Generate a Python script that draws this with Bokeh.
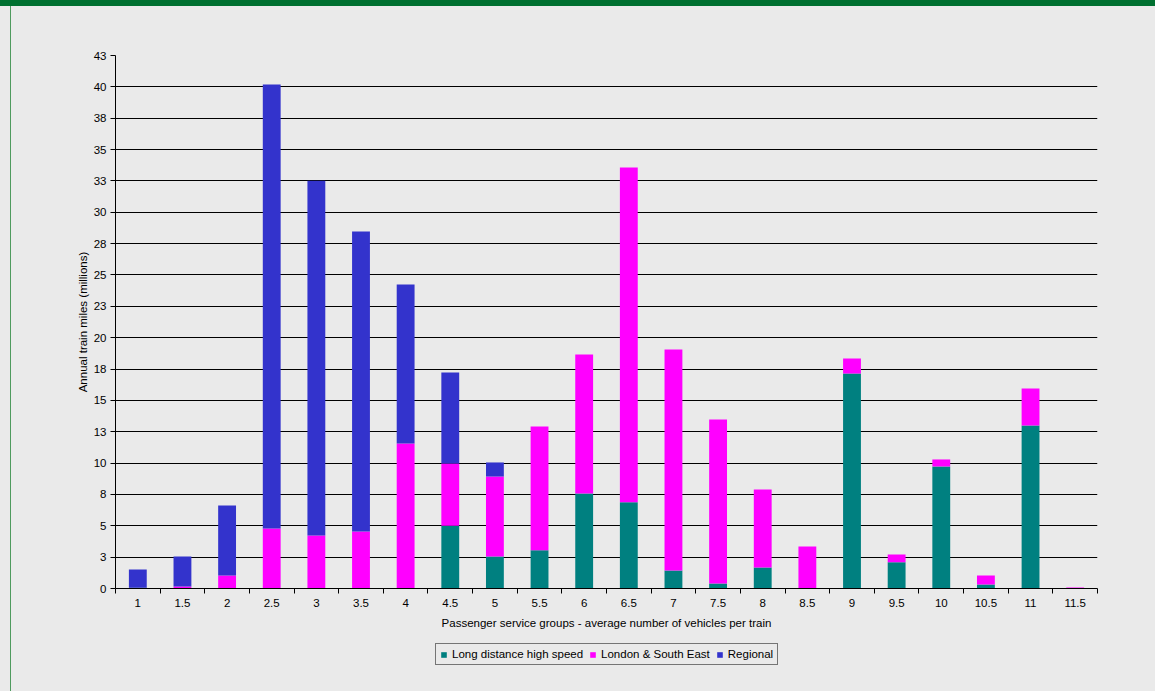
from bokeh.plotting import figure
from bokeh.models import (ColumnDataSource, Range1d, FixedTicker, Legend, Div)
from bokeh.layouts import column, row
from bokeh.embed import file_html
from bokeh.resources import INLINE

# Passenger service groups (average number of vehicles per train)
groups = [1, 1.5, 2, 2.5, 3, 3.5, 4, 4.5, 5, 5.5, 6, 6.5, 7, 7.5, 8, 8.5,
          9, 9.5, 10, 10.5, 11, 11.5]
group_labels = ["1", "1.5", "2", "2.5", "3", "3.5", "4", "4.5", "5", "5.5", "6",
                "6.5", "7", "7.5", "8", "8.5", "9", "9.5", "10", "10.5", "11", "11.5"]

# Annual train miles (millions) by sector
long_distance = [0.05, 0, 0, 0, 0, 0, 0, 5.0, 2.55, 3.05, 7.58, 6.88, 1.44, 0.4,
                 1.67, 0, 17.14, 2.1, 9.73, 0.32, 13.0, 0]
london_se = [0, 0.16, 1.04, 4.78, 4.23, 4.55, 11.56, 4.97, 6.38, 9.87, 11.08,
             26.69, 17.62, 13.08, 6.22, 3.35, 1.2, 0.61, 0.56, 0.72, 2.95, 0.08]
regional = [1.47, 2.39, 5.58, 35.41, 28.28, 23.92, 12.68, 7.25, 1.12, 0, 0, 0,
            0, 0, 0, 0, 0, 0, 0, 0, 0, 0]

series_names = ["Long distance high speed", "London & South East", "Regional"]
series_colors = ["#008080", "#FF00FF", "#3333CC"]

y_ticks = [0, 2.5, 5, 7.5, 10, 12.5, 15, 17.5, 20, 22.5, 25, 27.5, 30, 32.5,
           35, 37.5, 40, 42.5]
y_tick_labels = ["0", "3", "5", "8", "10", "13", "15", "18", "20", "23", "25",
                 "28", "30", "33", "35", "38", "40", "43"]

FONT = "Liberation Sans"
FONT_SIZE = "11.5px"
BG = "#EAEAEA"

source = ColumnDataSource(dict(group=groups, ld=long_distance,
                               lse=london_se, reg=regional))
x_range = Range1d(groups[0] - 0.25, groups[-1] + 0.25)

# main chart
p = figure(width=1144, height=636, output_backend="svg", toolbar_location=None,
           x_range=x_range, y_range=Range1d(y_ticks[0], y_ticks[-1]),
           min_border_left=104, min_border_right=58,
           min_border_top=49, min_border_bottom=54)
p.background_fill_color = BG
p.border_fill_color = BG
p.outline_line_color = None

p.vbar_stack(["ld", "lse", "reg"], x="group", width=0.2,
             color=series_colors, line_color=None, source=source)

# y axis
p.yaxis.ticker = FixedTicker(ticks=y_ticks)
p.yaxis.major_label_overrides = {t: s for t, s in zip(y_ticks, y_tick_labels)}
p.yaxis.axis_label = "Annual train miles (millions)"
p.yaxis.major_tick_out = 5
p.yaxis.major_tick_in = 0
p.yaxis.minor_tick_line_color = None
p.yaxis.major_label_standoff = 4
p.yaxis.axis_label_standoff = 2

# x axis: labels at group centres, ticks between groups
boundaries = [g - 0.25 for g in groups] + [groups[-1] + 0.25]
p.xaxis.ticker = FixedTicker(ticks=groups, minor_ticks=boundaries)
p.xaxis.major_label_overrides = {g: s for g, s in zip(groups, group_labels)}
p.xaxis.axis_label = "Passenger service groups - average number of vehicles per train"
p.xaxis.major_tick_out = 5
p.xaxis.major_tick_in = 0
p.xaxis.minor_tick_out = 5
p.xaxis.minor_tick_in = 0
p.xaxis.minor_tick_line_color = "black"
p.xaxis.major_label_standoff = 5
p.xaxis.axis_label_standoff = 7

for ax in (p.xaxis, p.yaxis):
    ax.axis_line_color = "black"
    ax.major_label_text_font = FONT
    ax.major_label_text_font_size = FONT_SIZE
    ax.major_label_text_color = "black"
    ax.axis_label_text_font = FONT
    ax.axis_label_text_font_size = FONT_SIZE
    ax.axis_label_text_font_style = "normal"
    ax.axis_label_text_color = "black"
p.yaxis.major_tick_line_color = "black"
p.xaxis.major_tick_line_color = None

p.xgrid.visible = False
p.ygrid.ticker = FixedTicker(ticks=y_ticks)
p.ygrid.grid_line_color = "black"
p.ygrid.grid_line_width = 1
p.ygrid.level = "underlay"

# legend strip under the chart; its stack mirrors the chart's series
leg = figure(width=1144, height=49, output_backend="svg", toolbar_location=None,
             x_axis_type=None, y_axis_type=None,
             x_range=x_range, y_range=Range1d(0, 1),
             min_border_left=104, min_border_right=58,
             min_border_top=0, min_border_bottom=0)
leg.background_fill_color = None
leg.border_fill_color = BG
leg.outline_line_color = None
leg.grid.visible = False

swatches = leg.vbar_stack(["ld", "lse", "reg"], x="group", width=0.2,
                          color=series_colors, line_color=None, source=source,
                          visible=False)
legend = Legend(items=[(n, [r]) for n, r in zip(series_names, swatches)],
                orientation="horizontal", location=(320, 26))
legend.label_text_font = FONT
legend.label_text_font_size = FONT_SIZE
legend.label_text_color = "black"
legend.label_height = 11
legend.glyph_height = 7
legend.glyph_width = 7
legend.label_standoff = 5
legend.spacing = 6
legend.padding = 4
legend.margin = 0
legend.border_line_color = "black"
legend.border_line_width = 1
legend.background_fill_color = BG
legend.background_fill_alpha = 1
legend.inactive_fill_alpha = 0
leg.add_layout(legend)

top_bar = Div(text="", width=1155, height=6, margin=0,
              styles={"background-color": "#007030"})
left_pad = Div(text="", width=10, height=685, margin=0,
               styles={"background-color": BG})
left_line = Div(text="", width=1, height=685, margin=0,
                styles={"background-color": "#4E9A5E"})

layout = column(top_bar,
                row(left_pad, left_line,
                    column(p, leg, spacing=0, styles={"background-color": BG}),
                    spacing=0, styles={"background-color": BG}),
                spacing=0, styles={"background-color": BG})

open("out.html", "w").write(file_html(layout, INLINE))
